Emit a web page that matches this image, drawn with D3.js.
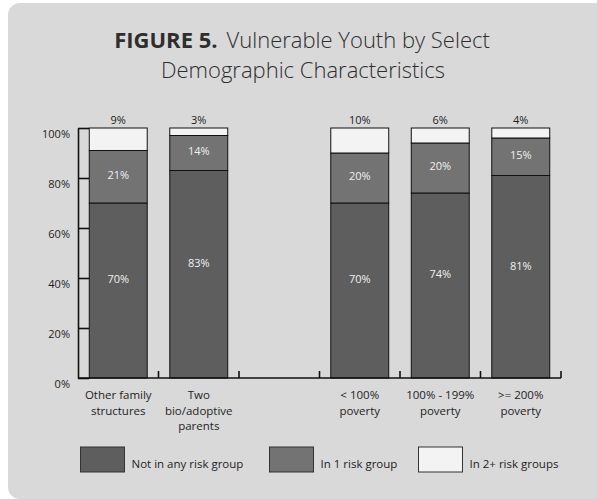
<!DOCTYPE html>
<html><head><meta charset="utf-8">
<script src="https://cdn.jsdelivr.net/npm/d3@7"></script>
<style>
html,body{margin:0;padding:0;background:#fff;}
svg{display:block;font-family:"Open Sans","Noto Sans",sans-serif;}
</style></head>
<body>
<svg id="c" width="597" height="499"></svg>
<script>
const categories = ["Other family|structures", "Two|bio/adoptive|parents", " ", "< 100%|poverty", "100% - 199%|poverty", ">= 200%|poverty"];
const notAtRisk = [70, 83, null, 70, 74, 81];
const oneRisk   = [21, 14, null, 20, 20, 15];
const twoPlus   = [9, 3, null, 10, 6, 4];
const seriesNames = ["Not in any risk group", "In 1 risk group", "In 2+ risk groups"];
const seriesColors = ["#5e5e5e", "#737373", "#f3f3f3"];
const yTicks = [0, 20, 40, 60, 80, 100];

const svg = d3.select("#c");
svg.append("rect").attr("x", 8).attr("y", 3).attr("width", 600).attr("height", 496)
  .attr("rx", 12).attr("fill", "#d9d9d9");

// Title
const t1 = svg.append("text").attr("x", 302).attr("y", 48).attr("text-anchor", "middle")
  .attr("fill", "#2e2e2e").attr("font-size", 22);
t1.append("tspan").attr("font-weight", 700).text("FIGURE 5.");
t1.append("tspan").attr("font-weight", 300).attr("dx", 9).text("Vulnerable Youth by Select");
svg.append("text").attr("x", 303).attr("y", 78).attr("text-anchor", "middle")
  .attr("fill", "#2e2e2e").attr("font-size", 22).attr("font-weight", 300)
  .text("Demographic Characteristics");

const x = d3.scaleBand().domain(categories).range([78, 561]).paddingInner(0.28).paddingOuter(0.14);
const y = d3.scaleLinear().domain([0, 100]).range([378, 128]);

const rows = categories.map((c, i) => ({cat: c, v0: notAtRisk[i], v1: oneRisk[i], v2: twoPlus[i]}))
  .filter(d => d.v0 != null);
const stack = d3.stack().keys(["v0", "v1", "v2"]);
const layers = stack(rows);

// bars
layers.forEach((layer, li) => {
  svg.append("g").selectAll("rect").data(layer).join("rect")
    .attr("x", d => x(d.data.cat))
    .attr("width", x.bandwidth())
    .attr("y", d => y(d[1]))
    .attr("height", d => y(d[0]) - y(d[1]))
    .attr("fill", seriesColors[li])
    .attr("stroke", "#111").attr("stroke-width", 1);
});

// labels
svg.append("g").selectAll("text").data(layers[0]).join("text")
  .attr("x", d => x(d.data.cat) + x.bandwidth() / 2)
  .attr("y", d => (y(d[0]) + y(d[1])) / 2 - 11)
  .attr("dy", "0.35em").attr("text-anchor", "middle")
  .attr("fill", "#f0f0f0").attr("font-size", 11).text(d => (d[1] - d[0]) + "%");
svg.append("g").selectAll("text").data(layers[1]).join("text")
  .attr("x", d => x(d.data.cat) + x.bandwidth() / 2)
  .attr("y", d => (y(d[0]) + y(d[1])) / 2 - 2)
  .attr("dy", "0.35em").attr("text-anchor", "middle")
  .attr("fill", "#f0f0f0").attr("font-size", 11).text(d => (d[1] - d[0]) + "%");
svg.append("g").selectAll("text").data(layers[2]).join("text")
  .attr("x", d => x(d.data.cat) + x.bandwidth() / 2)
  .attr("y", d => y(d[1]) - 8)
  .attr("dy", "0.35em").attr("text-anchor", "middle")
  .attr("fill", "#1e1e1e").attr("font-size", 11).text(d => (d[1] - d[0]) + "%");

// y axis
const yAxis = d3.axisLeft(y).tickValues(yTicks).tickSizeInner(-11).tickSizeOuter(0)
  .tickFormat(d => d + "%");
const ya = svg.append("g").attr("transform", "translate(78,0)").call(yAxis);
ya.select(".domain").attr("stroke", "#111").attr("stroke-width", 1.6);
ya.selectAll(".tick line").attr("stroke", "#111").attr("stroke-width", 1.6);
ya.selectAll(".tick text").attr("x", -8).attr("dy", "0.85em").attr("font-size", 11)
  .attr("fill", "#1e1e1e").attr("font-family", "Open Sans");

// x axis
const step = x.step();
const x0 = x.range()[0];
svg.append("line").attr("x1", 78).attr("x2", x.range()[1]).attr("y1", y(0)).attr("y2", y(0))
  .attr("stroke", "#111").attr("stroke-width", 1.6);
svg.append("g").selectAll("line").data(d3.range(1, categories.length + 1)).join("line")
  .attr("x1", i => x0 + i * step).attr("x2", i => x0 + i * step)
  .attr("y1", y(0)).attr("y2", y(0) - 7)
  .attr("stroke", "#111").attr("stroke-width", 1.6);

// category labels
const cl = svg.append("g").selectAll("text").data(categories).join("text")
  .attr("x", d => x(d) + x.bandwidth() / 2).attr("text-anchor", "middle")
  .attr("font-size", 11.5).attr("fill", "#1e1e1e");
cl.each(function(d) {
  const lines = d.split("|");
  d3.select(this).selectAll("tspan").data(lines).join("tspan")
    .attr("x", x(d) + x.bandwidth() / 2)
    .attr("y", (l, i) => 399 + i * 15.7).text(l => l);
});

// legend
const legX = [80.5, 269.5, 418.5];
const lg = svg.append("g").selectAll("g").data(seriesNames).join("g")
  .attr("transform", (d, i) => `translate(${legX[i]},447)`);
lg.append("rect").attr("width", 44).attr("height", 25)
  .attr("fill", (d, i) => seriesColors[i]).attr("stroke", "#333").attr("stroke-width", 1);
lg.append("text").attr("x", 51).attr("y", 21).attr("font-size", 11.5).attr("fill", "#1e1e1e")
  .text(d => d);
</script>
</body></html>
